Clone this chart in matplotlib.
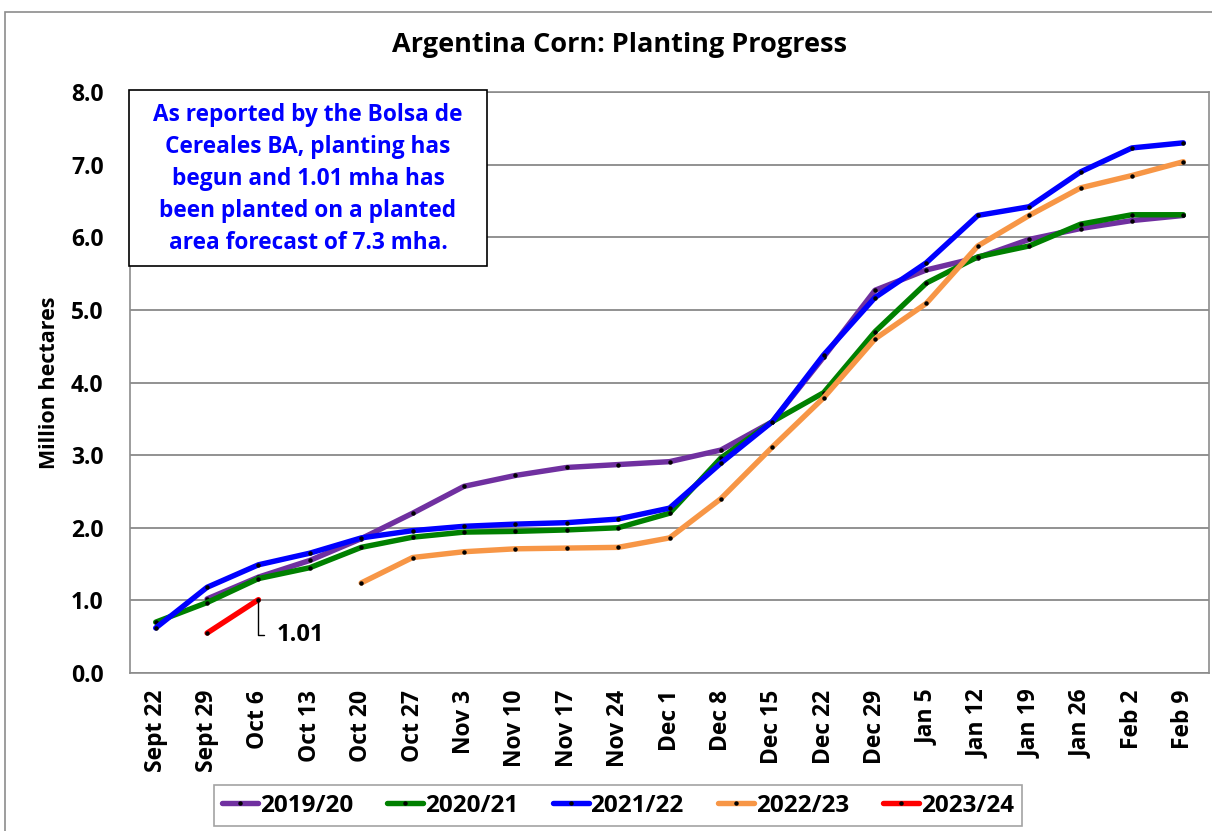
import matplotlib.pyplot as plt
from matplotlib.patches import Rectangle

plt.rcParams["font.family"] = ["Open Sans", "DejaVu Sans"]
plt.rcParams["font.weight"] = "bold"

WEEKS = ["Sept 22", "Sept 29", "Oct 6", "Oct 13", "Oct 20", "Oct 27", "Nov 3", "Nov 10",
         "Nov 17", "Nov 24", "Dec 1", "Dec 8", "Dec 15", "Dec 22", "Dec 29", "Jan 5",
         "Jan 12", "Jan 19", "Jan 26", "Feb 2", "Feb 9"]

# million hectares; None where the season has no report
S2019 = [None, 1.02, 1.32, 1.55, 1.85, 2.2, 2.57, 2.72, 2.83, 2.87, 2.91, 3.07, 3.46,
         4.35, 5.27, 5.55, 5.72, 5.97, 6.12, 6.23, 6.3]
S2020 = [0.7, 0.97, 1.3, 1.45, 1.73, 1.87, 1.94, 1.95, 1.97, 2.0, 2.2, 2.96, 3.46,
         3.86, 4.7, 5.37, 5.73, 5.88, 6.18, 6.31, 6.31]
S2021 = [0.62, 1.18, 1.49, 1.65, 1.86, 1.96, 2.02, 2.05, 2.07, 2.12, 2.27, 2.89, 3.46,
         4.38, 5.17, 5.65, 6.3, 6.42, 6.9, 7.23, 7.3]
S2022 = [None, None, None, None, 1.24, 1.59, 1.67, 1.71, 1.72, 1.73, 1.86, 2.4, 3.11,
         3.79, 4.6, 5.09, 5.88, 6.3, 6.68, 6.85, 7.04]
S2023 = [None, 0.55, 1.01]

SERIES = [
    ("2019/20", S2019, "#7030a0"),
    ("2020/21", S2020, "#008000"),
    ("2021/22", S2021, "#0000ff"),
    ("2022/23", S2022, "#f79646"),
    ("2023/24", S2023, "#ff0000"),
]

BOX_TEXT = ("As reported by the Bolsa de\nCereales BA, planting has\nbegun and 1.01 mha has\n"
            "been planted on a planted\narea forecast of 7.3 mha.")

W, H = 1212, 831
fig = plt.figure(figsize=(W / 100, H / 100), dpi=100)
ax = fig.add_axes([130 / W, 1 - 673 / H, (1209 - 130) / W, (673 - 92) / H])

# chart area frame
fig.patches.append(Rectangle((5 / W, -0.1), 1.2, 1 - 12 / H + 0.1, transform=fig.transFigure,
                             fill=False, edgecolor="#8c8c8c", linewidth=1.2))

x = list(range(len(WEEKS)))
handles = []
for label, values, color in SERIES:
    xs = [i for i, v in zip(x, values) if v is not None]
    ys = [v for v in values if v is not None]
    (line,) = ax.plot(xs, ys, color=color, linewidth=3.9, marker="o", markersize=2.2,
                      markerfacecolor="black", markeredgecolor="black", label=label,
                      solid_capstyle="round", zorder=3)
    handles.append(line)

ax.annotate("1.01", xy=(2, S2023[2]), xytext=(2.35, 0.53), fontsize=17, fontweight="bold",
            va="center", ha="left",
            arrowprops=dict(arrowstyle="-", color="black", lw=1,
                            connectionstyle="angle,angleA=0,angleB=90,rad=0",
                            shrinkA=7, shrinkB=0))

ax.set_xlim(-0.5, len(WEEKS) - 0.5)
ax.set_ylim(0, 8)
ax.set_yticks([i for i in range(9)])
ax.set_yticklabels([f"{i:.1f}" for i in range(9)], fontsize=16.5, fontweight="bold")
ax.set_xticks(x)
ax.set_xticklabels(WEEKS, rotation=90, fontsize=16.5, fontweight="bold")
ax.tick_params(axis="y", length=0, pad=19)
ax.tick_params(axis="x", length=0, pad=12)
ax.grid(axis="y", color="#7f7f7f", linewidth=1.2)
for spine in ax.spines.values():
    spine.set_color("#8c8c8c")
    spine.set_linewidth(1.2)
ax.set_ylabel("Million hectares", fontsize=15.5, fontweight="bold", labelpad=8)

fig.text(620 / W, 1 - 45 / H, "Argentina Corn: Planting Progress", ha="center", va="center",
         fontsize=19.5, fontweight="bold")

fig.patches.append(Rectangle((129 / W, 1 - 266 / H), (487 - 129) / W, (266 - 90) / H,
                             transform=fig.transFigure, facecolor="white",
                             edgecolor="black", linewidth=1.2, zorder=5))
fig.text(308 / W, 1 - 179 / H, BOX_TEXT, ha="center", va="center", color="#0000ff",
         fontsize=16.3, fontweight="bold", linespacing=1.45, zorder=6)

leg = fig.legend(handles=handles, loc="center", bbox_to_anchor=(618 / W, 1 - 805.5 / H),
                 ncol=5, frameon=True, fancybox=False, fontsize=17.5, handlelength=1.48,
                 handletextpad=0.08, columnspacing=1.4, numpoints=1, borderpad=0.35)
leg.get_frame().set_edgecolor("#8c8c8c")
leg.get_frame().set_linewidth(1.2)
for t in leg.get_texts():
    t.set_fontweight("bold")

fig.savefig("out.png", dpi=100)
